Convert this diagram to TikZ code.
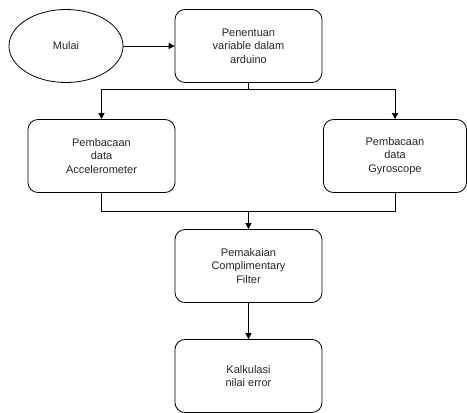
\documentclass[tikz,border=0pt]{standalone}
\usepackage{fontspec}
\setmainfont{Liberation Sans}
\usetikzlibrary{shapes.geometric,arrows.meta}

\tikzset{
	proses/.style={draw, rounded corners=10pt, minimum width=147pt, minimum height=73pt,
		align=center, font=\fontsize{11}{13.5}\selectfont, text=black!85},
	terminal/.style={draw, ellipse, minimum width=114pt, minimum height=73pt,
		font=\fontsize{11}{13.5}\selectfont, text=black!85},
	panah/.style={-{Triangle[length=6pt,width=6pt]}},
	belokX/.style={to path={-| (\tikztotarget)}},
	belokY/.style={to path={|- (\tikztotarget)}}
}

\begin{document}
\begin{tikzpicture}[x=1pt, y=-1pt, line width=0.8pt]
	
	\useasboundingbox (0,0) rectangle (467,413);
	
	\node (mulai) [terminal] at (66, 46) {Mulai};
	\node (penentuan) [proses] at (248.5, 46) {Penentuan\\variable dalam\\arduino};
	
	\node (accel) [proses] at (101.5, 156) {Pembacaan\\data\\Accelerometer};
	\node (gyro) [proses, minimum width=143pt] at (395, 156) {Pembacaan\\data\\Gyroscope};
	
	\node (pemakaian) [proses] at (248.5, 266) {Pemakaian\\Complimentary\\Filter};
	\node (kalkulasi) [proses] at (248.5, 376) {Kalkulasi\\nilai error};
	
	\coordinate (cabang) at (248.5, 89);
	\coordinate (gabung) at (248.5, 211);
	
	\path[-]
	(penentuan) edge (cabang)
	(accel) edge[belokY] (gabung)
	(gyro) edge[belokY] (gabung);
	
	\path[panah]
	(mulai) edge (penentuan)
	(cabang) edge[belokX] (accel)
	(cabang) edge[belokX] (gyro)
	(gabung) edge (pemakaian)
	(pemakaian) edge (kalkulasi);
	
\end{tikzpicture}
\end{document}
